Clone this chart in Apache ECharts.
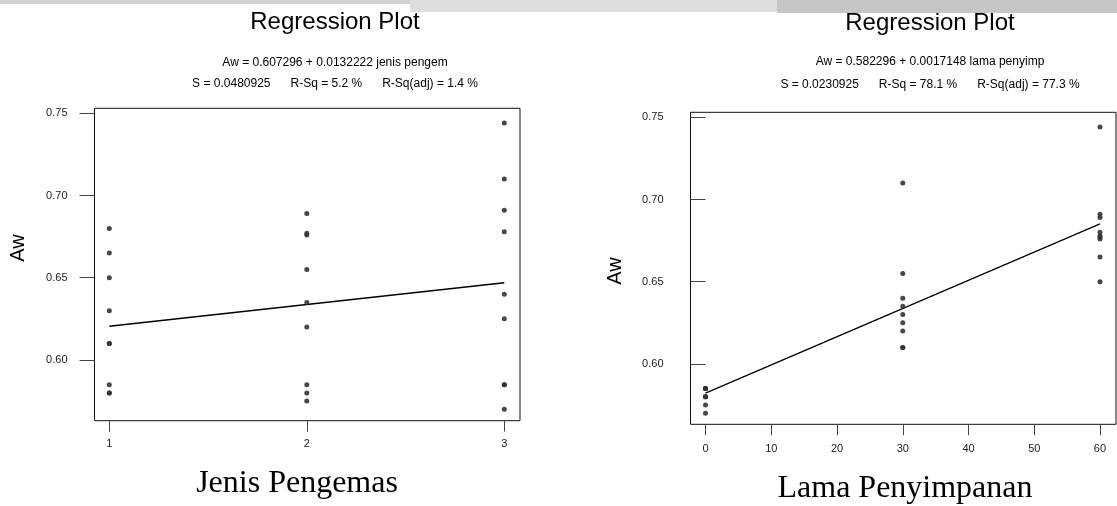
<!DOCTYPE html>
<html>
<head>
<meta charset="utf-8">
<script src="https://cdn.jsdelivr.net/npm/echarts@6/dist/echarts.min.js"></script>
<style>
html,body{margin:0;padding:0;background:#fff;}
#c{width:1117px;height:506px;}
</style>
</head>
<body>
<div id="c"></div>
<script>
// ---- data (27 observations: jenis pengemas x lama penyimpanan) ----
const jenis = [1,1,1,1,1,1,1,1,1, 2,2,2,2,2,2,2,2,2, 3,3,3,3,3,3,3,3,3];
const lama  = [0,0,0,30,30,30,60,60,60, 0,0,0,30,30,30,60,60,60, 0,0,0,30,30,30,60,60,60];
const aw    = [0.585,0.580,0.580,0.630,0.610,0.610,0.680,0.665,0.650,
               0.585,0.580,0.575,0.655,0.635,0.620,0.689,0.677,0.676,
               0.585,0.585,0.570,0.710,0.640,0.625,0.744,0.691,0.678];

const jenisTicks = [1,2,3];
const lamaTicks  = [0,10,20,30,40,50,60];
const awTicks    = [0.60,0.65,0.70,0.75];

const fitJenis = [0.607296, 0.0132222]; // intercept, slope
const fitLama  = [0.582296, 0.0017148];

const plotTitle = 'Regression Plot';
const eqJenis = 'Aw = 0.607296 + 0.0132222 jenis pengem';
const statJenis = 'S = 0.0480925      R-Sq = 5.2 %      R-Sq(adj) = 1.4 %';
const eqLama = 'Aw = 0.582296 + 0.0017148 lama penyimp';
const statLama = 'S = 0.0230925      R-Sq = 78.1 %      R-Sq(adj) = 77.3 %';
const yName = 'Aw';
const xNameJenis = 'Jenis Pengemas';
const xNameLama = 'Lama Penyimpanan';

// ---- build ----
const SANS = '"Liberation Sans", Arial, sans-serif';
const SERIF = '"Liberation Serif", "Times New Roman", serif';

const ptsJenis = jenis.map((x,i)=>[x, aw[i]]);
const ptsLama = lama.map((x,i)=>[x, aw[i]]);
const lineJenis = [jenisTicks[0], jenisTicks[jenisTicks.length-1]].map(x=>[x, fitJenis[0]+fitJenis[1]*x]);
const lineLama = [lamaTicks[0], lamaTicks[lamaTicks.length-1]].map(x=>[x, fitLama[0]+fitLama[1]*x]);

function xAxisCfg(grid, min, max, ticks, margin){
  return {
    type:'value', gridIndex:grid, min:min, max:max,
    axisLine:{show:false},
    splitLine:{show:false},
    axisTick:{show:true, length:11, customValues:ticks, lineStyle:{color:'#444', width:1}},
    axisLabel:{customValues:ticks, margin:margin, fontSize:11, color:'#222', fontFamily:SANS,
               formatter:v=>String(v)}
  };
}
function yAxisCfg(grid, min, max){
  return {
    type:'value', gridIndex:grid, min:min, max:max,
    axisLine:{show:false},
    splitLine:{show:false},
    axisTick:{show:true, length:15, customValues:awTicks, lineStyle:{color:'#444', width:1}},
    axisLabel:{customValues:awTicks, margin:27, fontSize:11, color:'#222', fontFamily:SANS,
               formatter:v=>v.toFixed(2)}
  };
}
function txt(x, y, text, font, extra){
  return Object.assign({
    type:'text', x:x, y:y, silent:true,
    style:{text:text, font:font, fill:'#000', textAlign:'center', textVerticalAlign:'middle'}
  }, extra||{});
}

const chart = echarts.init(document.getElementById('c'), null, {renderer:'canvas', width:1117, height:506});
chart.setOption({
  backgroundColor:'#fff',
  animation:false,
  grid:[
    {left:94.5, top:108.3, width:425.5, height:312.4, show:true, borderColor:'#111', borderWidth:1, backgroundColor:'transparent'},
    {left:690.5, top:112.3, width:425.5, height:312, show:true, borderColor:'#111', borderWidth:1, backgroundColor:'transparent'}
  ],
  xAxis:[
    xAxisCfg(0, 0.925, 3.0795, jenisTicks, 18),
    xAxisCfg(1, -2.283, 62.435, lamaTicks, 19)
  ],
  yAxis:[
    yAxisCfg(0, 0.5631, 0.753),
    yAxisCfg(1, 0.5633, 0.753)
  ],
  series:[
    {type:'scatter', xAxisIndex:0, yAxisIndex:0, data:ptsJenis, symbol:'circle', symbolSize:5,
     itemStyle:{color:'#333', opacity:0.9}, z:3},
    {type:'line', xAxisIndex:0, yAxisIndex:0, data:lineJenis, symbol:'none',
     lineStyle:{color:'#000', width:1.3}, z:2},
    {type:'scatter', xAxisIndex:1, yAxisIndex:1, data:ptsLama, symbol:'circle', symbolSize:5,
     itemStyle:{color:'#333', opacity:0.9}, z:3},
    {type:'line', xAxisIndex:1, yAxisIndex:1, data:lineLama, symbol:'none',
     lineStyle:{color:'#000', width:1.3}, z:2}
  ],
  graphic:[
    {type:'rect', silent:true, shape:{x:0,y:0,width:410,height:4}, style:{fill:'#d2d2d2'}},
    {type:'rect', silent:true, shape:{x:410,y:0,width:367,height:12}, style:{fill:'#dedede'}},
    {type:'rect', silent:true, shape:{x:777,y:0,width:340,height:13}, style:{fill:'#c6c6c6'}},
    txt(335, 22, plotTitle, '24px ' + SANS),
    txt(335, 63, eqJenis, '12px ' + SANS),
    txt(335, 84, statJenis, '12px ' + SANS),
    txt(930, 23, plotTitle, '24px ' + SANS),
    txt(930, 62, eqLama, '12px ' + SANS),
    txt(930, 85, statLama, '12px ' + SANS),
    txt(18, 248, yName, '20px ' + SANS, {rotation:Math.PI/2}),
    txt(615, 271, yName, '20px ' + SANS, {rotation:Math.PI/2}),
    txt(297, 484, xNameJenis, '32px ' + SERIF),
    txt(905, 489, xNameLama, '32px ' + SERIF)
  ]
});
</script>
</body>
</html>
